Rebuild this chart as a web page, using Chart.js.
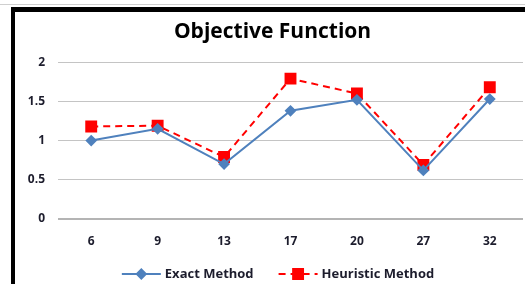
<!DOCTYPE html>
<html>
<head>
<meta charset="utf-8">
<script src="https://cdn.jsdelivr.net/npm/chart.js@4"></script>
<style>
  html, body { margin: 0; padding: 0; background: #fff; }
  body { width: 525px; height: 284px; position: relative; overflow: hidden; }
  .topline { position: absolute; left: 0; top: 4px; width: 525px; height: 1px; background: #cfcfcf; }
  .frame { position: absolute; left: 11px; top: 7px; width: 510px; height: 277px;
           border-left: 4px solid #000; border-top: 5px solid #000; }
  #wrap { position: absolute; left: 15px; top: 12px; width: 517px; height: 272px; }
</style>
</head>
<body>
<div class="topline"></div>
<div class="frame"></div>
<div id="wrap"><canvas id="chart"></canvas></div>
<script>
// data
const categories = ['6', '9', '13', '17', '20', '27', '32'];
const exactValues = [1.0, 1.15, 0.70, 1.38, 1.52, 0.62, 1.53];
const heuristicValues = [1.18, 1.19, 0.79, 1.79, 1.60, 0.69, 1.68];
const yTicks = [0, 0.5, 1, 1.5, 2];

const FONT = "'Open Sans', 'Liberation Sans', sans-serif";
const TEXT = '#1c1c2c';

// simple legend drawn under the x axis, Excel style
const bottomLegend = {
    id: 'bottomLegend',
    afterDraw(chart) {
        const ctx = chart.ctx;
        const y = 262;
        ctx.save();
        ctx.font = `bold 13px ${FONT}`;
        ctx.textBaseline = 'middle';
        const items = chart.data.datasets.map(ds => ({ ds, w: ctx.measureText(ds.label).width }));
        const lineW = 39, gapText = 4, gapItem = 25;
        let total = 0;
        items.forEach((it, i) => { total += lineW + gapText + it.w + (i ? gapItem : 0); });
        let x = 263 - total / 2;
        items.forEach((it, i) => {
            if (i) x += gapItem;
            const ds = it.ds;
            ctx.strokeStyle = ds.borderColor;
            ctx.lineWidth = ds.borderWidth;
            ctx.setLineDash(ds.borderDash || []);
            ctx.beginPath();
            ctx.moveTo(x, y);
            ctx.lineTo(x + lineW, y);
            ctx.stroke();
            ctx.setLineDash([]);
            Chart.helpers.drawPoint(ctx, {
                pointStyle: ds.pointStyle,
                radius: ds.pointRadius,
                borderWidth: 1
            }, x + lineW / 2, y);
            ctx.fillStyle = ds.pointBackgroundColor;
            ctx.strokeStyle = ds.pointBorderColor;
            ctx.fill();
            ctx.fillStyle = TEXT;
            ctx.textAlign = 'left';
            ctx.fillText(ds.label, x + lineW + gapText, y);
            x += lineW + gapText + it.w;
        });
        ctx.restore();
    }
};

new Chart(document.getElementById('chart'), {
    type: 'line',
    data: {
        labels: categories,
        datasets: [{
            label: 'Exact Method',
            data: exactValues,
            borderColor: '#4f81bd',
            backgroundColor: '#4f81bd',
            borderWidth: 2,
            pointStyle: 'rectRot',
            pointRadius: 4.5,
            pointBackgroundColor: '#4f81bd',
            pointBorderColor: '#4f81bd',
            tension: 0
        }, {
            label: 'Heuristic Method',
            data: heuristicValues,
            borderColor: '#ff0000',
            backgroundColor: '#ff0000',
            borderWidth: 2,
            borderDash: [7, 5],
            pointStyle: 'rect',
            pointRadius: 7,
            pointBackgroundColor: '#ff0000',
            pointBorderColor: '#ff0000',
            tension: 0
        }]
    },
    options: {
        responsive: true,
        maintainAspectRatio: false,
        animation: false,
        layout: { padding: { left: 0, right: 2, top: 0, bottom: 0 } },
        plugins: {
            legend: { display: false },
            tooltip: { enabled: false },
            title: {
                display: true,
                text: 'Objective Function',
                color: '#000',
                font: { family: FONT, size: 21, weight: 'bold', lineHeight: 1.2 },
                padding: { top: 7, bottom: 18 }
            }
        },
        scales: {
            x: {
                offset: true,
                grid: { display: false },
                border: { display: false },
                ticks: { color: TEXT, font: { family: FONT, size: 12, weight: 'bold' }, padding: 7 },
                afterFit: s => { s.height = 65; }
            },
            y: {
                min: 0,
                max: 2,
                afterBuildTicks: s => { s.ticks = yTicks.map(v => ({ value: v })); },
                border: { display: false },
                grid: {
                    drawTicks: false,
                    color: ctx => ctx.tick && ctx.tick.value === 0 ? '#b4b4b4' : '#c4c4c4',
                    lineWidth: ctx => ctx.tick && ctx.tick.value === 0 ? 2 : 1
                },
                ticks: {
                    color: TEXT,
                    font: { family: FONT, size: 12, weight: 'bold' },
                    padding: 13,
                    callback: v => String(v)
                },
                afterFit: s => { s.width = 43; }
            }
        }
    },
    plugins: [bottomLegend]
});
</script>
</body>
</html>
